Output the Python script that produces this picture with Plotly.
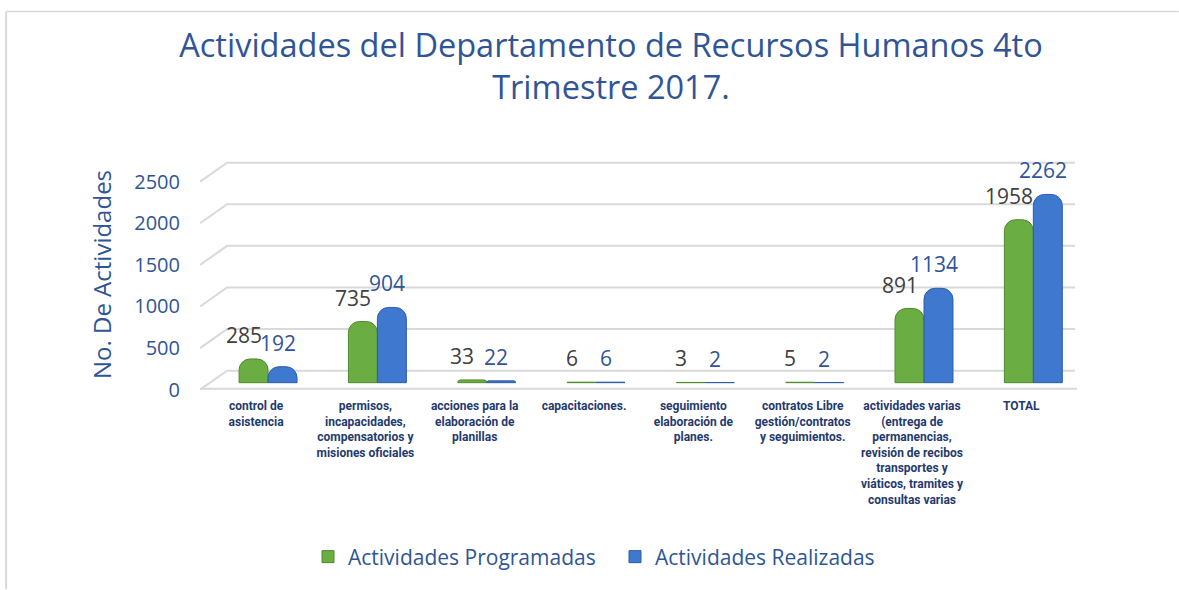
import plotly.graph_objects as go

categories = [
    "control de<br>asistencia",
    "permisos,<br>incapacidades,<br>compensatorios y<br>misiones oficiales",
    "acciones para la<br>elaboración de<br>planillas",
    "capacitaciones.",
    "seguimiento<br>elaboración de<br>planes.",
    "contratos Libre<br>gestión/contratos<br>y seguimientos.",
    "actividades varias<br>(entrega de<br>permanencias,<br>revisión de recibos<br>transportes y<br>viáticos, tramites y<br>consultas varias",
    "TOTAL",
]
programadas = [285, 735, 33, 6, 3, 5, 891, 1958]
realizadas = [192, 904, 22, 6, 2, 2, 1134, 2262]
y_ticks = [0, 500, 1000, 1500, 2000, 2500]
series_names = ["Actividades Programadas", "Actividades Realizadas"]

W, H = 1179, 590
GREEN, BLUE = "#6AAD42", "#3F78CF"
GREEN_LINE, BLUE_LINE = "#4F8A2C", "#2D5CA8"
TXT_BLUE = "#2F5597"
NAVY = "#1F3A6E"
FONT = "Open Sans"

# layout geometry (pixels)
x_unit = 109.35
x0_px = 268.0
x_min, x_max = -0.65, 7.5
y_scale = 41.7 / 500
y0_px = 383.0
y_min, y_max = -100, 2700

left = x0_px + x_min * x_unit
right = W - (x0_px + x_max * x_unit)
top = y0_px - y_max * y_scale
bottom = H - (y0_px - y_min * y_scale)

bargap = 0.47
half = (1 - bargap) / 4

idx = list(range(len(categories)))

fig = go.Figure()
fig.add_trace(go.Bar(
    x=idx, y=programadas, name=series_names[0], showlegend=False,
    marker=dict(color=GREEN, line=dict(color=GREEN_LINE, width=1), cornerradius=11),
))
fig.add_trace(go.Bar(
    x=idx, y=realizadas, name=series_names[1], showlegend=False,
    marker=dict(color=BLUE, line=dict(color=BLUE_LINE, width=1), cornerradius=11),
))
# legend entries with square swatches
for name, col, lc in [(series_names[0], GREEN, GREEN_LINE), (series_names[1], BLUE, BLUE_LINE)]:
    fig.add_trace(go.Scatter(x=[None], y=[None], mode="markers", name=name,
                             marker=dict(symbol="square", size=12, color=col,
                                         line=dict(color=lc, width=1))))

annotations = []
for i, v in enumerate(programadas):
    annotations.append(dict(x=i - half, y=v, xref="x", yref="y", text=str(v), showarrow=False,
                            xshift=-10, yshift=24, yanchor="middle",
                            font=dict(family=FONT, size=21, color="#404040")))
for i, v in enumerate(realizadas):
    annotations.append(dict(x=i + half, y=v, xref="x", yref="y", text=str(v), showarrow=False,
                            xshift=-5, yshift=24, yanchor="middle",
                            font=dict(family=FONT, size=21, color=TXT_BLUE)))

shapes = []
grid_color = "#D9D9D9"
back_end = 1075 - left
for v in y_ticks:
    shapes.append(dict(type="path", xref="x", yref="y", xsizemode="pixel", ysizemode="pixel",
                       xanchor=x_min, yanchor=v,
                       path=f"M {200-left:.1f},-7 L {227-left:.1f},12 L {back_end:.1f},12",
                       line=dict(color=grid_color, width=2), layer="below"))
shapes.append(dict(type="path", xref="x", yref="y", xsizemode="pixel", ysizemode="pixel",
                   xanchor=x_min, yanchor=0,
                   path=f"M {200-left:.1f},-6 L {1077-left:.1f},-6",
                   line=dict(color=grid_color, width=2), layer="below"))
# outer chart border (top and left)
pw = W - left - right
ph = H - top - bottom
def px_x(p):
    return (p - left) / pw
def px_y(p):
    return 1 - (p - top) / ph
shapes.append(dict(type="line", xref="paper", yref="paper", x0=px_x(6), x1=px_x(W), y0=px_y(11), y1=px_y(11),
                   line=dict(color="#D9D9D9", width=1.5)))
shapes.append(dict(type="line", xref="paper", yref="paper", x0=px_x(6), x1=px_x(6), y0=px_y(11), y1=px_y(H),
                   line=dict(color="#D9D9D9", width=2)))

fig.update_layout(
    width=W, height=H,
    margin=dict(l=left, r=right, t=top, b=bottom, autoexpand=False),
    paper_bgcolor="white", plot_bgcolor="white",
    barmode="group", bargap=bargap, bargroupgap=0,
    font=dict(family=FONT, color=TXT_BLUE),
    title=dict(text="Actividades del Departamento de Recursos Humanos 4to<br>Trimestre 2017.",
               x=611 / W, xref="container", xanchor="center",
               y=1 - 57 / H, yref="container", yanchor="middle",
               font=dict(family=FONT, size=32.5, color=TXT_BLUE)),
    xaxis=dict(range=[x_min, x_max], tickvals=idx, ticktext=categories, showgrid=False,
               zeroline=False, showline=False, ticks="", automargin=False,
               ticklabelstandoff=6, ticklabelshift=-12,
               tickfont=dict(family="Roboto", size=12, color=NAVY, weight="bold")),
    yaxis=dict(range=[y_min, y_max], tickvals=y_ticks, showgrid=False, zeroline=False,
               showline=False, ticks="", automargin=False,
               ticklabelstandoff=16, ticklabelshift=7,
               tickfont=dict(family=FONT, size=20, color=TXT_BLUE),
               title=dict(text="No. De Actividades", standoff=15,
                          font=dict(family=FONT, size=24, color=TXT_BLUE))),
    legend=dict(orientation="h", xref="container", yref="container",
                x=308 / W, xanchor="left", y=1 - 557 / H, yanchor="middle",
                font=dict(family=FONT, size=21, color=TXT_BLUE),
                entrywidth=262, entrywidthmode="pixels", itemwidth=30),
    annotations=annotations,
    shapes=shapes,
    showlegend=True,
)

fig.write_html("out.html", config={"displayModeBar": False},
               post_script="document.body.style.margin='0';document.body.style.overflow='hidden';")
